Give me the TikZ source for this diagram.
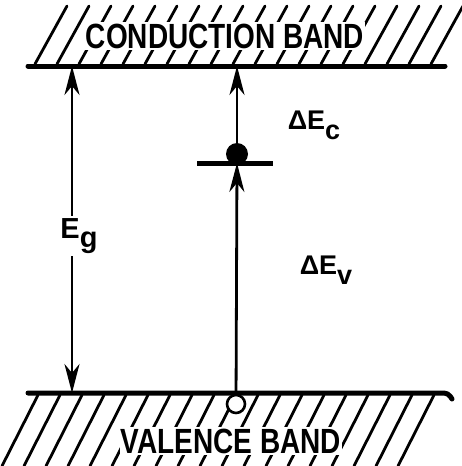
\documentclass[tikz,border=0pt]{standalone}
\usepackage{fontspec}
\setmainfont{Liberation Sans}
\usetikzlibrary{arrows.meta, positioning}
\tikzset{
  %% ---- lines ----
  band/.style     = {line width=5pt, line cap=round},
  hatch/.style    = {line width=2.8pt, line cap=round},
  level/.style    = {line width=5pt},
  %% ---- labels ----
  bandlabel/.style = {fill=white, inner sep=1.5pt, xscale=0.8, transform shape,
                      font=\fontsize{35}{35}\selectfont\bfseries},
  elabel/.style    = {inner sep=1pt, font=\fontsize{27}{27}\selectfont\bfseries},
  %% ---- arrows ----
  arrow/.style     = {-{Stealth[length=29pt, width=15pt, inset=9pt]}, line width=2.8pt},
  doublearrow/.style = {{Stealth[length=29pt, width=15pt, inset=9pt]}-{Stealth[length=29pt, width=15pt, inset=9pt]}, line width=2.8pt},
}
\begin{document}
\begin{tikzpicture}[x=1pt, y=-1pt]
\useasboundingbox (0,0) rectangle (461,466);
%% band edges
\coordinate (cbL) at (28,66);
\coordinate (cbR) at (445,66);
\coordinate (vbL) at (28,393);
\coordinate (vbR) at (452,399);
\coordinate (egTop) at (72,66);
\coordinate (egBot) at (72,393);
\coordinate (cTop)  at (237,66);
\coordinate (trap)  at (237,163);
\coordinate (trapL) at (197,163);
\coordinate (trapR) at (273,163);
%% hatching
\foreach \x in {35,57,...,431}
  \draw[hatch] (\x,64) -- (\x+32,6);
\foreach \x in {38,60,...,450}
  \draw[hatch] (\x,395) -- (\x-36,466);
\draw[band] (cbL) -- (cbR);
\draw[band, rounded corners=4pt] (vbL) -- (448,393) -- (vbR);
\node[bandlabel] (cb) at (225,36) {CONDUCTION BAND};
\node[bandlabel] (vb) at (231,441) {VALENCE BAND};
%% gap
\draw[doublearrow] (egBot) -- (egTop);
\node[fill=white, inner sep=2pt, font=\fontsize{29}{29}\selectfont\bfseries] (eg) at (79,236) {E\raisebox{-9pt}{g}};
%% trap level
\draw[level] (trapL) -- (trapR);
\node[circle, fill, minimum size=22pt, inner sep=0pt] (electron) at (237,154) {};
\node[circle, draw, fill=white, line width=2.6pt, minimum size=18pt, inner sep=0pt] (hole) at (236,404) {};
\draw[arrow] (electron) -- (cTop);
\draw[arrow] (hole) -- (trap);
\node[elabel] (dec) at (314,125) {ΔE\raisebox{-10pt}{c}};
\node[elabel] (dev) at (326,270) {ΔE\raisebox{-10pt}{v}};
\end{tikzpicture}
\end{document}
